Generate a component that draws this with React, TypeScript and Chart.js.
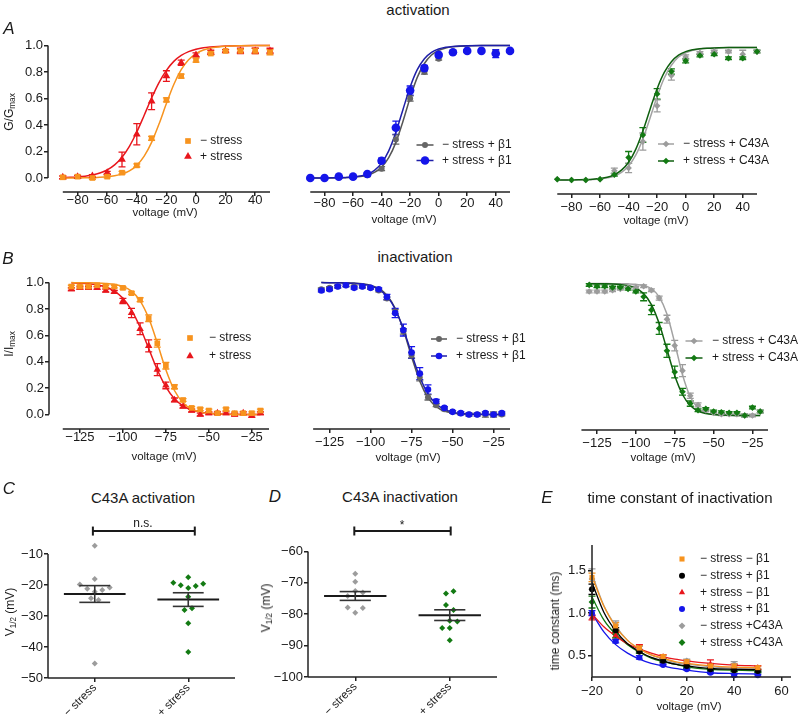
import React, { useEffect, useRef } from 'react';
import { Chart, registerables } from 'chart.js';
Chart.register(...registerables);

const FONT = '"Liberation Sans", Arial, Helvetica, sans-serif';
Chart.defaults.font.family = FONT;

// ---------- colours ----------
const ORANGE = '#F7931E';
const RED = '#E8161C';
const DGRAY = '#666666';
const BLUE = '#1515EA';
const LGRAY = '#9C9C9C';
const GREEN = '#137A13';
const BLACK = '#000000';
const DGRAY_FIT = '#555555';
const BLUE_FIT = '#1E1EA8';
const LGRAY_FIT = '#A2A2A2';
const GREEN_FIT = '#0F5F0F';

// ---------- tick labels ----------
const fracTicks = [0, 0.2, 0.4, 0.6, 0.8, 1.0];
const actTicksX = [-80, -60, -40, -20, 0, 20, 40];
const inactTicksX = [-125, -100, -75, -50, -25];
const cTicksY = [-10, -20, -30, -40, -50];
const dTicksY = [-60, -70, -80, -90, -100];
const eTicksX = [-20, 0, 20, 40, 60];
const eTicksY = [0.5, 1.0, 1.5];
const catLabels = ['\u2212 stress', '+ stress'];

// ---------- A: activation ----------
const actV = [-90, -80, -70, -60, -50, -40, -30, -20, -10, 0, 10, 20, 30, 40, 50];
const a1Minus = [0.005, 0.01, 0.0, 0.01, 0.04, 0.095, 0.30, 0.59, 0.77, 0.89, 0.94, 0.96, 0.96, 0.96, 0.95];
const a1MinusErr = [0.01, 0.01, 0.01, 0.01, 0.01, 0.012, 0.015, 0.015, 0.015, 0.015, 0.01, 0.01, 0.01, 0.02, 0.02];
const a1Plus = [0.005, 0.01, 0.015, 0.04, 0.14, 0.33, 0.58, 0.77, 0.87, 0.93, 0.95, 0.96, 0.96, 0.96, 0.96];
const a1PlusErr = [0.01, 0.01, 0.01, 0.01, 0.056, 0.08, 0.063, 0.04, 0.02, 0.015, 0.015, 0.01, 0.02, 0.02, 0.02];
const a2Gray = [0.0, 0.0, 0.005, 0.01, 0.02, 0.07, 0.29, 0.60, 0.80, 0.90, 0.95, 0.96, 0.96, 0.95, 0.96];
const a2GrayErr = [0, 0, 0, 0, 0.01, 0.015, 0.035, 0.02, 0.015, 0.01, 0.01, 0.01, 0.01, 0.01, 0.01];
const a2Blue = [0.0, 0.0, 0.01, 0.01, 0.03, 0.13, 0.38, 0.66, 0.83, 0.93, 0.95, 0.96, 0.96, 0.94, 0.96];
const a2BlueErr = [0, 0, 0, 0, 0.01, 0.02, 0.05, 0.035, 0.02, 0.01, 0.01, 0.01, 0.01, 0.03, 0.01];
const a3Gray = [0.005, 0.0, 0.0, 0.005, 0.07, 0.09, 0.29, 0.56, 0.79, 0.93, 0.96, 0.97, 0.97, 0.95, 0.97];
const a3GrayErr = [0, 0, 0, 0, 0.02, 0.035, 0.065, 0.045, 0.035, 0.015, 0.01, 0.01, 0.01, 0.03, 0.01];
const a3Green = [0.005, 0.0, 0.0, 0.005, 0.04, 0.17, 0.34, 0.65, 0.82, 0.90, 0.94, 0.95, 0.92, 0.92, 0.97];
const a3GreenErr = [0, 0, 0, 0, 0.01, 0.045, 0.055, 0.04, 0.02, 0.015, 0.01, 0.01, 0.01, 0.01, 0.01];

const actFitV = [-90, -85, -80, -75, -70, -65, -60, -55, -50, -45, -40, -35, -30, -25, -20, -15, -10, -5, 0, 5, 10, 15, 20, 30, 40, 50];
const a1FitMinus = [0.0002, 0.0004, 0.0007, 0.0013, 0.0025, 0.0046, 0.0086, 0.016, 0.029, 0.053, 0.095, 0.165, 0.269, 0.407, 0.562, 0.706, 0.818, 0.893, 0.94, 0.967, 0.982, 0.99, 0.995, 0.999, 1, 1];
const a1FitPlus = [0.0027, 0.0046, 0.0078, 0.013, 0.022, 0.037, 0.061, 0.099, 0.157, 0.239, 0.347, 0.474, 0.604, 0.721, 0.813, 0.881, 0.926, 0.955, 0.973, 0.984, 0.99, 0.994, 0.997, 0.999, 1, 1];
const a2FitGray = [0.0001, 0.0001, 0.0003, 0.0006, 0.0012, 0.0025, 0.005, 0.0103, 0.021, 0.042, 0.082, 0.153, 0.269, 0.429, 0.606, 0.76, 0.865, 0.929, 0.964, 0.982, 0.991, 0.996, 0.998, 1, 1, 1];
const a2FitBlue = [0.0001, 0.0002, 0.0004, 0.0009, 0.0017, 0.0035, 0.0072, 0.0146, 0.029, 0.058, 0.112, 0.205, 0.345, 0.518, 0.687, 0.818, 0.901, 0.949, 0.974, 0.987, 0.994, 0.997, 0.9985, 1, 1, 1];
const a3FitGray = [0.0001, 0.0003, 0.0006, 0.0011, 0.0022, 0.0042, 0.0082, 0.016, 0.03, 0.058, 0.106, 0.187, 0.31, 0.467, 0.631, 0.77, 0.867, 0.929, 0.961, 0.98, 0.99, 0.995, 0.997, 1, 1, 1];
const a3FitGreen = [0.0002, 0.0004, 0.0007, 0.0015, 0.0028, 0.0055, 0.0107, 0.02, 0.039, 0.074, 0.134, 0.231, 0.37, 0.533, 0.69, 0.813, 0.894, 0.943, 0.97, 0.984, 0.992, 0.996, 0.998, 1, 1, 1];

// ---------- B: inactivation ----------
const inactV = [-130, -125, -120, -115, -110, -105, -100, -95, -90, -85, -80, -75, -70, -65, -60, -55, -50, -45, -40, -35, -30, -25, -20];
const b1Minus = [0.97, 0.97, 0.97, 0.98, 0.97, 0.97, 0.96, 0.92, 0.87, 0.73, 0.54, 0.37, 0.21, 0.11, 0.05, 0.04, 0.03, 0.01, 0.04, 0.01, 0.01, 0.01, 0.03];
const b1MinusErr = [0.01, 0.01, 0.01, 0.01, 0.01, 0.01, 0.01, 0.01, 0.015, 0.025, 0.03, 0.025, 0.015, 0.01, 0.01, 0.01, 0.01, 0.01, 0.01, 0.01, 0.01, 0.01, 0.01];
const b1Plus = [0.95, 0.96, 0.96, 0.96, 0.94, 0.93, 0.86, 0.77, 0.65, 0.52, 0.34, 0.22, 0.11, 0.06, 0.03, 0.0, 0.01, 0.01, 0.01, 0.0, 0.01, -0.01, 0.01];
const b1PlusErr = [0.01, 0.01, 0.01, 0.01, 0.01, 0.01, 0.02, 0.035, 0.045, 0.045, 0.045, 0.025, 0.015, 0.01, 0.01, 0.01, 0.01, 0.01, 0.01, 0.01, 0.01, 0.01, 0.01];
const b2Gray = [0.95, 0.96, 0.97, 0.98, 0.97, 0.97, 0.96, 0.94, 0.88, 0.78, 0.63, 0.45, 0.28, 0.13, 0.07, 0.04, 0.02, 0.01, 0.0, 0.0, 0.0, 0.0, 0.0];
const b2GrayErr = [0.01, 0.01, 0.01, 0.01, 0.01, 0.01, 0.01, 0.01, 0.01, 0.015, 0.02, 0.02, 0.025, 0.02, 0.01, 0.01, 0.01, 0.01, 0.01, 0.01, 0.02, 0.02, 0.01];
const b2Blue = [0.94, 0.95, 0.97, 0.98, 0.96, 0.97, 0.96, 0.95, 0.89, 0.77, 0.64, 0.47, 0.31, 0.19, 0.10, 0.05, 0.02, 0.01, 0.0, 0.0, 0.01, 0.0, 0.01];
const b2BlueErr = [0.01, 0.01, 0.01, 0.01, 0.01, 0.01, 0.01, 0.01, 0.02, 0.035, 0.045, 0.045, 0.045, 0.035, 0.015, 0.01, 0.01, 0.01, 0.01, 0.01, 0.01, 0.01, 0.01];
const b3Gray = [0.94, 0.94, 0.94, 0.95, 0.96, 0.97, 0.97, 0.98, 0.95, 0.89, 0.73, 0.53, 0.34, 0.15, 0.08, 0.04, 0.02, 0.01, 0.01, 0.01, 0.0, 0.0, 0.03];
const b3GrayErr = [0.01, 0.01, 0.01, 0.01, 0.01, 0.01, 0.01, 0.01, 0.01, 0.015, 0.03, 0.04, 0.045, 0.02, 0.015, 0.01, 0.01, 0.01, 0.01, 0.01, 0.01, 0.01, 0.01];
const b3Green = [0.99, 0.98, 0.98, 0.97, 0.97, 0.96, 0.94, 0.90, 0.80, 0.66, 0.49, 0.33, 0.18, 0.09, 0.04, 0.05, 0.03, 0.025, 0.02, 0.02, 0.0, 0.06, 0.03];
const b3GreenErr = [0.01, 0.01, 0.01, 0.01, 0.01, 0.01, 0.01, 0.03, 0.035, 0.045, 0.05, 0.045, 0.025, 0.02, 0.01, 0.01, 0.01, 0.01, 0.01, 0.01, 0.01, 0.01, 0.01];

const inactFitV = [-130, -125, -120, -115, -110, -105, -100, -95, -90, -85, -80, -75, -70, -65, -60, -55, -50, -45, -40, -35, -30, -25, -20];
const b1FitMinus = [0.9998, 0.9995, 0.9988, 0.9975, 0.994, 0.987, 0.971, 0.935, 0.862, 0.731, 0.542, 0.339, 0.182, 0.089, 0.04, 0.018, 0.008, 0.0034, 0.0015, 0.0007, 0.0003, 0.0001, 0.0001];
const b1FitPlus = [0.9975, 0.995, 0.991, 0.982, 0.966, 0.935, 0.881, 0.791, 0.661, 0.5, 0.339, 0.209, 0.119, 0.065, 0.034, 0.018, 0.0093, 0.0048, 0.0025, 0.0013, 0.0006, 0.0003, 0.0002];
const b2FitGray = [0.9999, 0.9997, 0.9993, 0.9984, 0.9964, 0.992, 0.981, 0.956, 0.905, 0.805, 0.642, 0.438, 0.253, 0.128, 0.06, 0.027, 0.012, 0.0052, 0.0023, 0.001, 0.0004, 0.0002, 0.0001];
const b2FitBlue = [0.9998, 0.9994, 0.9988, 0.9975, 0.9947, 0.9886, 0.976, 0.949, 0.896, 0.8, 0.649, 0.462, 0.284, 0.156, 0.079, 0.038, 0.018, 0.0084, 0.0039, 0.0018, 0.0008, 0.0004, 0.0002];
const b3FitGray = [1, 1, 0.9999, 0.9997, 0.9993, 0.998, 0.9945, 0.985, 0.961, 0.9, 0.769, 0.55, 0.31, 0.142, 0.057, 0.022, 0.008, 0.003, 0.001, 0.0004, 0.0002, 0.0001, 0];
const b3FitGreen = [0.9998, 0.9995, 0.9988, 0.997, 0.993, 0.985, 0.966, 0.924, 0.841, 0.697, 0.5, 0.303, 0.159, 0.076, 0.034, 0.015, 0.0067, 0.003, 0.0013, 0.0006, 0.0002, 0.0001, 0];

// ---------- C / D: V1/2 scatter ----------
const cMinusY = [-7.3, -18.1, -19.8, -21.2, -22.2, -21.6, -20.8, -24.3, -24.8, -45.3];
const cMinusJit = [0, 0, -0.16, -0.08, 0, 0.08, 0.16, -0.04, 0.04, 0];
const cPlusY = [-17.5, -19.3, -20.1, -21.0, -20.3, -19.6, -23.8, -28.1, -27.5, -32.3, -41.6];
const cPlusJit = [0, -0.16, -0.08, 0, 0.08, 0.16, 0, -0.04, 0.04, 0, 0];
const cMean = [-22.9, -24.7];
const cSem = [2.7, 2.2];
const cSig = { from: 0.98, to: 2.07, level: -2.6 };

const dMinusY = [-67.1, -69.7, -72.6, -73.1, -74.2, -77.9, -78.0, -79.5];
const dMinusJit = [0, 0, 0, 0.08, -0.08, -0.08, 0.08, 0];
const dPlusY = [-73.4, -72.7, -77.1, -78.7, -82.1, -82.3, -84.4, -84.4, -88.3];
const dPlusJit = [-0.04, 0.04, -0.04, 0.04, 0, 0.08, -0.08, 0, 0];
const dMean = [-74.2, -80.3];
const dSem = [1.4, 1.7];
const dSig = { from: 0.99, to: 2.01, level: -53.5 };

// ---------- E: time constant ----------
const eV = [-20, -10, 0, 10, 20, 30, 40, 50];
const eOrange = [1.42, 0.85, 0.59, 0.49, 0.43, 0.38, 0.38, 0.36];
const eOrangeErr = [0.05, 0.04, 0.03, 0.02, 0.02, 0.02, 0.02, 0.02];
const eBlack = [1.28, 0.8, 0.55, 0.44, 0.38, 0.34, 0.33, 0.32];
const eBlackErr = [0.06, 0.03, 0.02, 0.02, 0.01, 0.01, 0.01, 0.01];
const eRed = [0.95, 0.74, 0.59, 0.49, 0.42, 0.4, 0.37, 0.36];
const eRedErr = [0.03, 0.03, 0.04, 0.02, 0.02, 0.05, 0.03, 0.02];
const eBlue = [1.0, 0.67, 0.48, 0.39, 0.34, 0.3, 0.27, 0.27];
const eBlueErr = [0.03, 0.02, 0.02, 0.01, 0.01, 0.01, 0.015, 0.01];
const eGray = [1.4, 0.86, 0.58, 0.47, 0.44, 0.38, 0.4, 0.33];
const eGrayErr = [0.12, 0.05, 0.03, 0.03, 0.02, 0.03, 0.03, 0.02];
const eGreen = [1.13, 0.75, 0.55, 0.45, 0.36, 0.33, 0.32, 0.31];
const eGreenErr = [0.07, 0.04, 0.02, 0.02, 0.01, 0.01, 0.01, 0.01];

const eFitV = [-20, -15, -10, -5, 0, 5, 10, 15, 20, 30, 40, 50];
const eFitOrange = [1.43, 1.08, 0.84, 0.68, 0.58, 0.51, 0.47, 0.43, 0.41, 0.38, 0.365, 0.36];
const eFitBlack = [1.36, 1.01, 0.79, 0.64, 0.55, 0.48, 0.44, 0.4, 0.38, 0.35, 0.34, 0.335];
const eFitRed = [0.99, 0.84, 0.73, 0.64, 0.58, 0.53, 0.49, 0.46, 0.44, 0.41, 0.39, 0.38];
const eFitBlue = [1.0, 0.78, 0.63, 0.53, 0.46, 0.41, 0.38, 0.35, 0.33, 0.3, 0.29, 0.285];
const eFitGray = [1.46, 1.09, 0.85, 0.68, 0.58, 0.51, 0.46, 0.42, 0.4, 0.37, 0.355, 0.35];
const eFitGreen = [1.19, 0.92, 0.75, 0.63, 0.54, 0.47, 0.43, 0.4, 0.37, 0.34, 0.33, 0.325];

// ---------- helpers ----------
type Pt = { x: number; y: number };
const pts = (xs: number[], ys: number[]): Pt[] => xs.map((x, i) => ({ x, y: ys[i] }));
const jit = (c: number, js: number[], ys: number[]): Pt[] => ys.map((y, i) => ({ x: c + js[i], y }));
const signed = (v: number) => (v < 0 ? '\u2212' + Math.abs(v) : String(v));
const fixed1 = (v: number) => v.toFixed(1);
const catFmt = (v: number) => catLabels[Math.round(v) - 1] ?? '';

function mk(label: string, data: Pt[], color: string, style: string, r: number, errors?: number[]) {
  return {
    label, data, errors, showLine: false, pointStyle: style, pointRadius: r, pointHoverRadius: r,
    pointBackgroundColor: color, pointBorderColor: color, pointBorderWidth: 0,
    borderColor: color, backgroundColor: color, clip: false,
  };
}
function fitLine(xs: number[], ys: number[], color: string, w = 1.5) {
  return {
    data: pts(xs, ys), showLine: true, pointRadius: 0, pointHoverRadius: 0, borderColor: color,
    borderWidth: w, cubicInterpolationMode: 'monotone', fill: false, clip: false,
  };
}

function marker(ctx: CanvasRenderingContext2D, style: string, r: number, x: number, y: number) {
  ctx.beginPath();
  if (style === 'circle') ctx.arc(x, y, r, 0, Math.PI * 2);
  else if (style === 'rect') { const s = r * Math.SQRT1_2; ctx.rect(x - s, y - s, 2 * s, 2 * s); }
  else if (style === 'triangle') {
    ctx.moveTo(x, y - r); ctx.lineTo(x + 0.866 * r, y + 0.5 * r); ctx.lineTo(x - 0.866 * r, y + 0.5 * r); ctx.closePath();
  } else { ctx.moveTo(x - r, y); ctx.lineTo(x, y - r); ctx.lineTo(x + r, y); ctx.lineTo(x, y + r); ctx.closePath(); }
  ctx.fill();
}

const extras = {
  id: 'extras',
  beforeDatasetsDraw(chart: any) {
    const { ctx } = chart;
    const xs = chart.scales.x, ys = chart.scales.y;
    ctx.save();
    chart.data.datasets.forEach((ds: any) => {
      if (!ds.errors) return;
      ctx.strokeStyle = ds.borderColor;
      ctx.lineWidth = 1.3;
      ds.data.forEach((p: Pt, j: number) => {
        const e = ds.errors[j];
        if (!e) return;
        const x = xs.getPixelForValue(p.x);
        const y1 = ys.getPixelForValue(p.y + e), y2 = ys.getPixelForValue(p.y - e);
        const c = 3.5;
        ctx.beginPath();
        ctx.moveTo(x, y1); ctx.lineTo(x, y2);
        ctx.moveTo(x - c, y1); ctx.lineTo(x + c, y1);
        ctx.moveTo(x - c, y2); ctx.lineTo(x + c, y2);
        ctx.stroke();
      });
    });
    ctx.restore();
  },
  afterDatasetsDraw(chart: any, _a: any, o: any) {
    const { ctx, chartArea: ca } = chart;
    const xs = chart.scales.x, ys = chart.scales.y;
    const px = (v: number) => xs.getPixelForValue(v);
    const py = (v: number) => ys.getPixelForValue(v);
    const seg = (x1: number, y1: number, x2: number, y2: number) => { ctx.beginPath(); ctx.moveTo(x1, y1); ctx.lineTo(x2, y2); ctx.stroke(); };
    ctx.save();
    ctx.strokeStyle = '#222';
    ctx.lineWidth = 1.5;
    if (o.xLine) seg(px(o.xLine[0]), ca.bottom, px(o.xLine[1]), ca.bottom);
    if (o.yLine) seg(ca.left, py(o.yLine[0]), ca.left, py(o.yLine[1]));
    if (o.means) {
      const m = o.means;
      m.x.forEach((xc: number, i: number) => {
        ctx.strokeStyle = '#1a1a1a'; ctx.lineWidth = 2;
        seg(px(xc - m.half), py(m.mean[i]), px(xc + m.half), py(m.mean[i]));
        ctx.strokeStyle = '#333'; ctx.lineWidth = 1.6;
        const hi = m.mean[i] + m.sem[i], lo = m.mean[i] - m.sem[i];
        seg(px(xc), py(hi), px(xc), py(lo));
        seg(px(xc - m.cap), py(hi), px(xc + m.cap), py(hi));
        seg(px(xc - m.cap), py(lo), px(xc + m.cap), py(lo));
      });
    }
    if (o.sig) {
      const s = o.sig;
      const y = py(s.level), x1 = px(s.from), x2 = px(s.to);
      ctx.strokeStyle = '#1a1a1a'; ctx.lineWidth = 2;
      seg(x1, y, x2, y);
      seg(x1, y - 4.5, x1, y + 4.5);
      seg(x2, y - 4.5, x2, y + 4.5);
    }
    if (o.legend) {
      const L = o.legend;
      const [ox, oy] = o.origin;
      ctx.font = `12px ${FONT}`;
      ctx.textBaseline = 'middle';
      ctx.textAlign = 'left';
      L.items.forEach((it: any, k: number) => {
        const y = L.y0 - oy + k * L.dy;
        const mx = L.mx - ox;
        const ds = chart.data.datasets[it.ds];
        if (it.line) {
          ctx.strokeStyle = it.line; ctx.lineWidth = 1.5;
          seg(mx - L.half, y, mx + L.half, y);
        }
        ctx.fillStyle = ds.pointBackgroundColor;
        marker(ctx, ds.pointStyle, ds.pointRadius, mx, y);
        ctx.fillStyle = '#1a1a1a';
        ctx.fillText(it.text, L.tx - ox, y);
      });
    }
    ctx.restore();
  },
};

type AxisSpec = { min: number; max: number; ticks: number[]; fmt: (v: number) => string; line: [number, number]; show?: boolean; rotate?: number; pad?: number; fs?: number };
type PanelSpec = { left: number; top: number; w: number; h: number; L: number; T: number; R: number; B: number; x: AxisSpec; y: AxisSpec; datasets: any[]; legend?: any; means?: any; sig?: any };

function scale(ax: AxisSpec, dir: 'x' | 'y', size: number) {
  return {
    type: 'linear', position: dir === 'x' ? 'bottom' : 'left', min: ax.min, max: ax.max, display: ax.show !== false,
    afterBuildTicks: (s: any) => { s.ticks = ax.ticks.map((v) => ({ value: v })); },
    afterFit: (s: any) => { if (dir === 'x') s.height = size; else s.width = size; },
    ticks: {
      autoSkip: false, maxRotation: ax.rotate ?? 0, minRotation: ax.rotate ?? 0, padding: ax.pad ?? 2,
      color: '#1a1a1a', font: { size: ax.fs ?? 13, family: FONT }, callback: (v: any) => ax.fmt(Number(v)),
    },
    grid: { display: true, drawOnChartArea: false, drawTicks: true, tickLength: 4, color: '#222', lineWidth: 1.5 },
    border: { display: false },
  };
}

function cfg(p: PanelSpec): any {
  const yShow = p.y.show !== false;
  return {
    type: 'scatter',
    data: { datasets: p.datasets },
    options: {
      responsive: false, animation: false, events: [],
      layout: { padding: { left: yShow ? 0 : p.L - p.left, top: p.T - p.top, right: p.left + p.w - p.R, bottom: 0 } },
      scales: { x: scale(p.x, 'x', p.top + p.h - p.B), y: scale(p.y, 'y', p.L - p.left) },
      plugins: {
        legend: { display: false }, tooltip: { enabled: false },
        extras: { origin: [p.left, p.top], legend: p.legend, means: p.means, sig: p.sig, xLine: p.x.line, yLine: yShow ? p.y.line : null },
      },
    },
    plugins: [extras],
  };
}

// ---------- panels ----------
const actX = (pad: number): AxisSpec => ({ min: -100, max: 50, ticks: actTicksX, fmt: signed, line: [-90, 50], pad });
const inactX = (pad: number): AxisSpec => ({ min: -143, max: -15, ticks: inactTicksX, fmt: signed, line: [-135, -15], pad });
const fracY = (show: boolean, min: number): AxisSpec => ({ min, max: 1.05, ticks: fracTicks, fmt: fixed1, line: [0, 1], show, pad: 1 });

const panels: PanelSpec[] = [
  {
    left: 0, top: 28, w: 278, h: 202, L: 48, T: 39, R: 270, B: 192, x: actX(-3), y: fracY(true, -0.106),
    datasets: [
      mk('\u2212 stress', pts(actV, a1Minus), ORANGE, 'rect', 4, a1MinusErr),
      mk('+ stress', pts(actV, a1Plus), RED, 'triangle', 4.5, a1PlusErr),
      fitLine(actFitV, a1FitMinus, ORANGE),
      fitLine(actFitV, a1FitPlus, RED),
    ],
    legend: { mx: 188, tx: 200, y0: 141, dy: 15.5, half: 0, items: [{ text: '\u2212 stress', ds: 0 }, { text: '+ stress', ds: 1 }] },
  },
  {
    left: 280, top: 28, w: 245, h: 202, L: 288, T: 39, R: 510, B: 192, x: actX(0), y: fracY(false, -0.106),
    datasets: [
      mk('+ stress + \u03b21', pts(actV, a2Blue), BLUE, 'circle', 4.3, a2BlueErr),
      mk('\u2212 stress + \u03b21', pts(actV, a2Gray), DGRAY, 'circle', 3, a2GrayErr),
      fitLine(actFitV, a2FitBlue, BLUE_FIT),
      fitLine(actFitV, a2FitGray, DGRAY_FIT),
    ],
    legend: { mx: 425, tx: 442, y0: 145, dy: 15.5, half: 8.5, items: [{ text: '\u2212 stress + \u03b21', ds: 1, line: DGRAY_FIT }, { text: '+ stress + \u03b21', ds: 0, line: BLUE_FIT }] },
  },
  {
    left: 527, top: 30, w: 273, h: 200, L: 535, T: 41, R: 757, B: 194, x: actX(2), y: fracY(false, -0.106),
    datasets: [
      mk('+ stress + C43A', pts(actV, a3Green), GREEN, 'rectRot', 3.3, a3GreenErr),
      mk('\u2212 stress + C43A', pts(actV, a3Gray), LGRAY, 'rectRot', 3.3, a3GrayErr),
      fitLine(actFitV, a3FitGreen, GREEN_FIT),
      fitLine(actFitV, a3FitGray, LGRAY_FIT),
    ],
    legend: { mx: 666, tx: 683, y0: 144, dy: 17, half: 8, items: [{ text: '\u2212 stress + C43A', ds: 1, line: LGRAY_FIT }, { text: '+ stress + C43A', ds: 0, line: GREEN_FIT }] },
  },
  {
    left: 0, top: 265, w: 278, h: 200, L: 49, T: 276, R: 269, B: 429, x: inactX(-3), y: fracY(true, -0.11),
    datasets: [
      mk('\u2212 stress', pts(inactV, b1Minus), ORANGE, 'rect', 4, b1MinusErr),
      mk('+ stress', pts(inactV, b1Plus), RED, 'triangle', 4.3, b1PlusErr),
      fitLine(inactFitV, b1FitMinus, ORANGE),
      fitLine(inactFitV, b1FitPlus, RED),
    ],
    legend: { mx: 190, tx: 209, y0: 338, dy: 18, half: 0, items: [{ text: '\u2212 stress', ds: 0 }, { text: '+ stress', ds: 1 }] },
  },
  {
    left: 280, top: 265, w: 250, h: 200, L: 290, T: 276, R: 510, B: 429, x: inactX(2), y: fracY(false, -0.11),
    datasets: [
      mk('+ stress + \u03b21', pts(inactV, b2Blue), BLUE, 'circle', 3.3, b2BlueErr),
      mk('\u2212 stress + \u03b21', pts(inactV, b2Gray), DGRAY, 'circle', 3, b2GrayErr),
      fitLine(inactFitV, b2FitBlue, BLUE_FIT),
      fitLine(inactFitV, b2FitGray, DGRAY_FIT),
    ],
    legend: { mx: 439, tx: 456, y0: 339, dy: 17, half: 8, items: [{ text: '\u2212 stress + \u03b21', ds: 1, line: DGRAY_FIT }, { text: '+ stress + \u03b21', ds: 0, line: BLUE_FIT }] },
  },
  {
    left: 527, top: 265, w: 273, h: 200, L: 548, T: 277, R: 768, B: 430, x: inactX(2), y: fracY(false, -0.11),
    datasets: [
      mk('+ stress + C43A', pts(inactV, b3Green), GREEN, 'rectRot', 3.3, b3GreenErr),
      mk('\u2212 stress + C43A', pts(inactV, b3Gray), LGRAY, 'rectRot', 3.3, b3GrayErr),
      fitLine(inactFitV, b3FitGreen, GREEN_FIT),
      fitLine(inactFitV, b3FitGray, LGRAY_FIT),
    ],
    legend: { mx: 694, tx: 712, y0: 341, dy: 17, half: 8.5, items: [{ text: '\u2212 stress + C43A', ds: 1, line: LGRAY_FIT }, { text: '+ stress + C43A', ds: 0, line: GREEN_FIT }] },
  },
  {
    left: 0, top: 510, w: 250, h: 212, L: 48, T: 523, R: 235, B: 678,
    x: { min: 0.5, max: 2.5, ticks: [1, 2], fmt: catFmt, line: [0.5, 2.5], rotate: 45, pad: -1, fs: 11.5 },
    y: { min: -50, max: 0, ticks: cTicksY, fmt: signed, line: [-50, -10], pad: 1 },
    datasets: [
      mk('\u2212 stress', jit(1, cMinusJit, cMinusY), LGRAY, 'rectRot', 3),
      mk('+ stress', jit(2, cPlusJit, cPlusY), GREEN, 'rectRot', 3),
    ],
    means: { x: [1, 2], mean: cMean, sem: cSem, half: 0.33, cap: 0.165 },
    sig: cSig,
  },
  {
    left: 262, top: 508, w: 250, h: 214, L: 308, T: 520, R: 497, B: 677,
    x: { min: 0.5, max: 2.5, ticks: [1, 2], fmt: catFmt, line: [0.5, 2.5], rotate: 45, pad: -1, fs: 11.5 },
    y: { min: -100, max: -50, ticks: dTicksY, fmt: signed, line: [-100, -60], pad: 1 },
    datasets: [
      mk('\u2212 stress', jit(1, dMinusJit, dMinusY), LGRAY, 'rectRot', 3),
      mk('+ stress', jit(2, dPlusJit, dPlusY), GREEN, 'rectRot', 3),
    ],
    means: { x: [1, 2], mean: dMean, sem: dSem, half: 0.33, cap: 0.165 },
    sig: dSig,
  },
  {
    left: 530, top: 532, w: 270, h: 190, L: 592, T: 545, R: 791, B: 677,
    x: { min: -20, max: 64, ticks: eTicksX, fmt: signed, line: [-20, 64], pad: 3 },
    y: { min: 0.25, max: 1.8, ticks: eTicksY, fmt: fixed1, line: [0.25, 1.8], pad: 2 },
    datasets: [
      mk('\u2212 stress \u2212 \u03b21', pts(eV, eOrange), ORANGE, 'rect', 3.6, eOrangeErr),
      mk('\u2212 stress + \u03b21', pts(eV, eBlack), BLACK, 'circle', 3, eBlackErr),
      mk('+ stress \u2212 \u03b21', pts(eV, eRed), RED, 'triangle', 3.6, eRedErr),
      mk('+ stress + \u03b21', pts(eV, eBlue), BLUE, 'circle', 3, eBlueErr),
      mk('\u2212 stress +C43A', pts(eV, eGray), LGRAY, 'rectRot', 3.4, eGrayErr),
      mk('+ stress +C43A', pts(eV, eGreen), GREEN, 'rectRot', 3.4, eGreenErr),
      fitLine(eFitV, eFitOrange, ORANGE, 1.3),
      fitLine(eFitV, eFitBlack, BLACK, 1.3),
      fitLine(eFitV, eFitRed, RED, 1.3),
      fitLine(eFitV, eFitBlue, BLUE, 1.3),
      fitLine(eFitV, eFitGray, LGRAY, 1.3),
      fitLine(eFitV, eFitGreen, GREEN, 1.3),
    ],
    legend: {
      mx: 682, tx: 700, y0: 559, dy: 16.7, half: 0,
      items: [
        { text: '\u2212 stress \u2212 \u03b21', ds: 0 },
        { text: '\u2212 stress + \u03b21', ds: 1 },
        { text: '+ stress \u2212 \u03b21', ds: 2 },
        { text: '+ stress + \u03b21', ds: 3 },
        { text: '\u2212 stress +C43A', ds: 4 },
        { text: '+ stress +C43A', ds: 5 },
      ],
    },
  },
];

function Panel({ spec }: { spec: PanelSpec }) {
  const ref = useRef<HTMLCanvasElement>(null);
  useEffect(() => {
    const chart = new Chart(ref.current as HTMLCanvasElement, cfg(spec));
    return () => chart.destroy();
  }, [spec]);
  return (
    <canvas
      ref={ref}
      width={spec.w}
      height={spec.h}
      style={{ position: 'absolute', left: spec.left, top: spec.top, width: spec.w, height: spec.h }}
    />
  );
}

function Txt({ x, y, s = 12, it = false, rot = false, children }: { x: number; y: number; s?: number; it?: boolean; rot?: boolean; children: any }) {
  return (
    <div
      style={{
        position: 'absolute', left: x, top: y, fontSize: s, lineHeight: 1, whiteSpace: 'nowrap',
        fontStyle: it ? 'italic' : 'normal',
        transform: `translate(-50%, -50%)${rot ? ' rotate(-90deg)' : ''}`,
      }}
    >
      {children}
    </div>
  );
}

const subStyle: React.CSSProperties = { fontSize: '0.68em', position: 'relative', top: '0.3em', verticalAlign: 'baseline' };

export default function App() {
  return (
    <div style={{ position: 'absolute', left: 0, top: 0, width: 800, height: 722, background: '#fff', overflow: 'hidden', fontFamily: FONT, color: '#1a1a1a' }}>
      {panels.map((p, i) => (
        <Panel key={i} spec={p} />
      ))}
      <Txt x={418} y={9} s={15}>activation</Txt>
      <Txt x={415} y={256} s={15}>inactivation</Txt>
      <Txt x={143} y={497} s={15}>C43A activation</Txt>
      <Txt x={400} y={496} s={15}>C43A inactivation</Txt>
      <Txt x={680} y={497} s={15}>time constant of inactivation</Txt>

      <Txt x={9} y={28} s={17} it>A</Txt>
      <Txt x={8} y={258} s={17} it>B</Txt>
      <Txt x={9} y={488} s={17} it>C</Txt>
      <Txt x={275} y={496} s={17} it>D</Txt>
      <Txt x={547} y={497} s={17} it>E</Txt>

      <Txt x={9} y={112} rot>G/G<span style={subStyle}>max</span></Txt>
      <Txt x={9} y={344} rot>I/I<span style={subStyle}>max</span></Txt>
      <Txt x={10} y={612} rot>V<span style={subStyle}>1/2</span> (mV)</Txt>
      <Txt x={266} y={608} rot>V<span style={subStyle}>1/2</span> (mV)</Txt>
      <Txt x={555} y={621} rot>time constant (ms)</Txt>

      <Txt x={165} y={213} s={11.5}>voltage (mV)</Txt>
      <Txt x={404} y={220} s={11.5}>voltage (mV)</Txt>
      <Txt x={656} y={221} s={11.5}>voltage (mV)</Txt>
      <Txt x={164} y={457} s={11.5}>voltage (mV)</Txt>
      <Txt x={408} y={458} s={11.5}>voltage (mV)</Txt>
      <Txt x={663} y={458} s={11.5}>voltage (mV)</Txt>
      <Txt x={689} y={707} s={11.5}>voltage (mV)</Txt>

      <Txt x={143} y={523} s={12}>n.s.</Txt>
      <Txt x={402} y={525} s={12}>*</Txt>
    </div>
  );
}
